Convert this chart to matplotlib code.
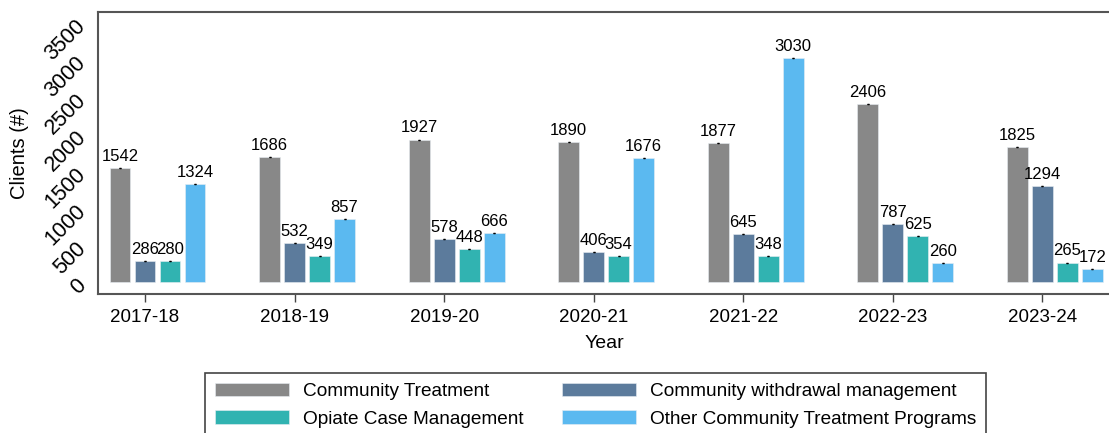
import numpy as np
import matplotlib.pyplot as plt

plt.rcParams['font.family'] = ['Liberation Sans', 'DejaVu Sans']

# Datos
years = ['2017-18', '2018-19', '2019-20', '2020-21', '2021-22', '2022-23', '2023-24']
series_names = ['Community Treatment', 'Community withdrawal management',
                'Opiate Case Management', 'Other Community Treatment Programs']
community_treatment = [1542, 1686, 1927, 1890, 1877, 2406, 1825]
withdrawal_mgmt = [286, 532, 578, 406, 645, 787, 1294]
opiate_case = [280, 349, 448, 354, 348, 625, 265]
other_programs = [1324, 857, 666, 1676, 3030, 260, 172]
colors = ['#888888', '#5c7b9c', '#31b3b1', '#5bb9f0']

all_series = [community_treatment, withdrawal_mgmt, opiate_case, other_programs]

fig = plt.figure(figsize=(11.09, 4.33), dpi=100)
ax = fig.add_axes([0.0884, 0.321, 0.9134, 0.6513])

x = np.arange(len(years))
step = 0.1672
width = 0.14
bars = []
for i, (vals, col, name) in enumerate(zip(all_series, colors, series_names)):
    pos = x + (i - 1) * step
    b = ax.bar(pos, vals, width, color=col, label=name, edgecolor='#e8eef2', linewidth=0.4)
    bars.append(b)
    # pequeñas barras de error en la parte superior
    ax.errorbar(pos, vals, yerr=np.zeros(len(vals)), fmt='none', ecolor='black',
                capsize=0.7, elinewidth=0.8, capthick=0.9)
    for px, v in zip(pos, vals):
        ax.annotate(str(v), (px, v), xytext=(0, 3), textcoords='offset points',
                    ha='center', va='bottom', fontsize=12)

ax.set_xlim(-0.314, 6.46)
ax.set_ylim(-160, 3650)
ax.set_xticks(x)
ax.set_xticklabels(years, fontsize=13.5)
ax.set_yticks(np.arange(0, 3501, 500))
ax.set_yticklabels([str(v) for v in range(0, 3501, 500)], fontsize=15.5,
                   rotation=45, ha='right', va='center', rotation_mode='anchor')
ax.tick_params(axis='y', length=0, pad=11)
ax.tick_params(axis='x', length=6, width=1, color='#444444', pad=5)
ax.set_xlabel('Year', fontsize=14, labelpad=6)
ax.set_ylabel('Clients (#)', fontsize=14.5, labelpad=9)

for s in ax.spines.values():
    s.set_color('#555555')
    s.set_linewidth(1.5)

handles = [bars[0], bars[2], bars[1], bars[3]]
labels = [series_names[0], series_names[2], series_names[1], series_names[3]]
leg = fig.legend(handles, labels, ncol=2, loc='upper left',
                 bbox_to_anchor=(205 / 1109, 1 - 373 / 433), borderaxespad=0,
                 fontsize=13.7, frameon=True, fancybox=False, framealpha=1,
                 edgecolor='#444444', handlelength=3.9, handleheight=0.7,
                 handletextpad=0.75, columnspacing=2.0, labelspacing=0.55,
                 borderpad=0.5)
leg.get_frame().set_linewidth(1.2)

plt.savefig('out.png', dpi=100)
